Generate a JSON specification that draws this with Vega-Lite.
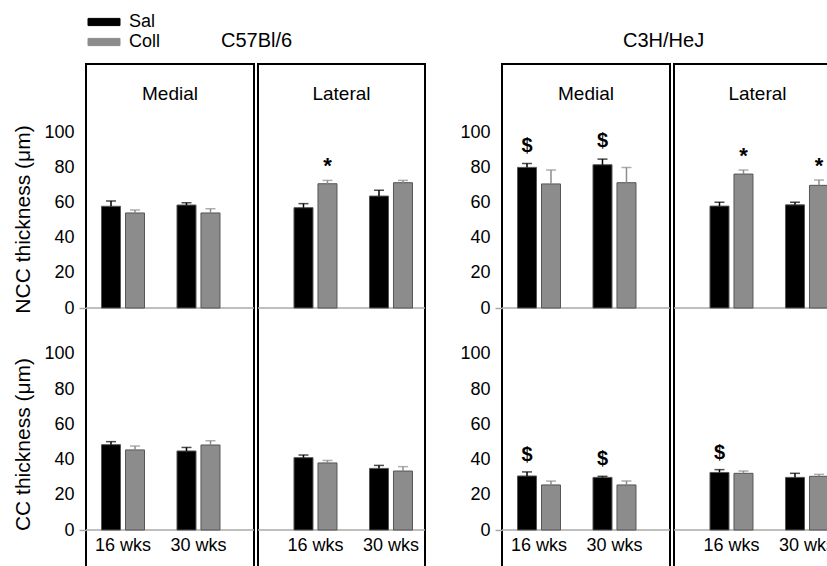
{
"$schema": "https://vega.github.io/schema/vega-lite/v6.json",
"padding": {"left": 11, "top": 13, "right": 0, "bottom": 0},
"config": {"font": "Liberation Sans", "view": {"stroke": "black", "strokeWidth": 2}, "axis": {"grid": false}},
"datasets": {"d": [
{"strain":"C57Bl/6","region":"Medial","measure":"NCC","age":"16 wks","treatment":"Sal","mean":57.8,"upper":60.8,"sig":""},
{"strain":"C57Bl/6","region":"Medial","measure":"NCC","age":"16 wks","treatment":"Coll","mean":54.0,"upper":55.7,"sig":""},
{"strain":"C57Bl/6","region":"Medial","measure":"NCC","age":"30 wks","treatment":"Sal","mean":58.5,"upper":59.8,"sig":""},
{"strain":"C57Bl/6","region":"Medial","measure":"NCC","age":"30 wks","treatment":"Coll","mean":54.0,"upper":56.4,"sig":""},
{"strain":"C57Bl/6","region":"Lateral","measure":"NCC","age":"16 wks","treatment":"Sal","mean":57.0,"upper":59.3,"sig":""},
{"strain":"C57Bl/6","region":"Lateral","measure":"NCC","age":"16 wks","treatment":"Coll","mean":70.6,"upper":72.5,"sig":"*"},
{"strain":"C57Bl/6","region":"Lateral","measure":"NCC","age":"30 wks","treatment":"Sal","mean":63.6,"upper":66.9,"sig":""},
{"strain":"C57Bl/6","region":"Lateral","measure":"NCC","age":"30 wks","treatment":"Coll","mean":71.2,"upper":72.5,"sig":""},
{"strain":"C3H/HeJ","region":"Medial","measure":"NCC","age":"16 wks","treatment":"Sal","mean":79.9,"upper":82.1,"sig":"$"},
{"strain":"C3H/HeJ","region":"Medial","measure":"NCC","age":"16 wks","treatment":"Coll","mean":70.5,"upper":78.4,"sig":""},
{"strain":"C3H/HeJ","region":"Medial","measure":"NCC","age":"30 wks","treatment":"Sal","mean":81.4,"upper":84.6,"sig":"$"},
{"strain":"C3H/HeJ","region":"Medial","measure":"NCC","age":"30 wks","treatment":"Coll","mean":71.2,"upper":79.9,"sig":""},
{"strain":"C3H/HeJ","region":"Lateral","measure":"NCC","age":"16 wks","treatment":"Sal","mean":57.9,"upper":60.1,"sig":""},
{"strain":"C3H/HeJ","region":"Lateral","measure":"NCC","age":"16 wks","treatment":"Coll","mean":76.1,"upper":78.4,"sig":"*"},
{"strain":"C3H/HeJ","region":"Lateral","measure":"NCC","age":"30 wks","treatment":"Sal","mean":58.6,"upper":60.1,"sig":""},
{"strain":"C3H/HeJ","region":"Lateral","measure":"NCC","age":"30 wks","treatment":"Coll","mean":69.7,"upper":72.7,"sig":"*"},
{"strain":"C57Bl/6","region":"Medial","measure":"CC","age":"16 wks","treatment":"Sal","mean":48.5,"upper":50.2,"sig":""},
{"strain":"C57Bl/6","region":"Medial","measure":"CC","age":"16 wks","treatment":"Coll","mean":45.5,"upper":47.7,"sig":""},
{"strain":"C57Bl/6","region":"Medial","measure":"CC","age":"30 wks","treatment":"Sal","mean":44.9,"upper":46.9,"sig":""},
{"strain":"C57Bl/6","region":"Medial","measure":"CC","age":"30 wks","treatment":"Coll","mean":48.3,"upper":50.7,"sig":""},
{"strain":"C57Bl/6","region":"Lateral","measure":"CC","age":"16 wks","treatment":"Sal","mean":41.1,"upper":42.6,"sig":""},
{"strain":"C57Bl/6","region":"Lateral","measure":"CC","age":"16 wks","treatment":"Coll","mean":38.1,"upper":39.5,"sig":""},
{"strain":"C57Bl/6","region":"Lateral","measure":"CC","age":"30 wks","treatment":"Sal","mean":35.0,"upper":36.7,"sig":""},
{"strain":"C57Bl/6","region":"Lateral","measure":"CC","age":"30 wks","treatment":"Coll","mean":33.5,"upper":36.0,"sig":""},
{"strain":"C3H/HeJ","region":"Medial","measure":"CC","age":"16 wks","treatment":"Sal","mean":30.7,"upper":33.0,"sig":"$"},
{"strain":"C3H/HeJ","region":"Medial","measure":"CC","age":"16 wks","treatment":"Coll","mean":25.6,"upper":27.8,"sig":""},
{"strain":"C3H/HeJ","region":"Medial","measure":"CC","age":"30 wks","treatment":"Sal","mean":29.9,"upper":30.5,"sig":"$"},
{"strain":"C3H/HeJ","region":"Medial","measure":"CC","age":"30 wks","treatment":"Coll","mean":25.6,"upper":27.8,"sig":""},
{"strain":"C3H/HeJ","region":"Lateral","measure":"CC","age":"16 wks","treatment":"Sal","mean":32.7,"upper":34.3,"sig":"$"},
{"strain":"C3H/HeJ","region":"Lateral","measure":"CC","age":"16 wks","treatment":"Coll","mean":32.2,"upper":33.5,"sig":""},
{"strain":"C3H/HeJ","region":"Lateral","measure":"CC","age":"30 wks","treatment":"Sal","mean":29.9,"upper":32.2,"sig":""},
{"strain":"C3H/HeJ","region":"Lateral","measure":"CC","age":"30 wks","treatment":"Coll","mean":30.5,"upper":31.6,"sig":""}
]},
"spacing": 31,
"hconcat": [
{
"title": {"text": "C57Bl/6", "fontSize": 20, "fontWeight": "normal", "color": "black", "offset": 12, "anchor": "start", "frame": "group", "dx": 135},
"spacing": 0,
"hconcat": [
{
"width": 168, "height": 520,
"data": {"name": "d"},
"transform": [{"filter": "datum.strain === 'C57Bl/6' && datum.region === 'Medial'"}],
"layer": [
  {"transform": [{"filter": "datum.measure === 'NCC' && datum.age === '16 wks' && datum.treatment === 'Sal'"}], "mark": {"type": "rule", "color": "#aaaaaa", "strokeWidth": 1.5}, "encoding": {"y": {"datum": 0, "type": "quantitative", "scale": {"domain": [-156.82, 138.64], "nice": false, "zero": false}, "axis": null}}},
  {"transform": [{"filter": "datum.measure === 'NCC'"}], "mark": {"type": "bar", "stroke": "#555555", "strokeWidth": 1},
   "encoding": {
    "x": {"field": "age", "type": "nominal", "sort": ["16 wks", "30 wks"], "scale": {"paddingInner": 0.4305, "paddingOuter": 0.328, "align": 0.313}, "axis": {"orient": "bottom", "offset": -54, "domain": false, "ticks": false, "labelFontSize": 18, "labelColor": "black", "labelPadding": 6, "labelAngle": 0, "title": null}},
    "xOffset": {"field": "treatment", "type": "nominal", "sort": ["Sal", "Coll"], "scale": {"paddingInner": 0.208, "paddingOuter": 0}},
    "y": {"field": "mean", "type": "quantitative", "scale": {"domain": [-156.82, 138.64], "nice": false, "zero": false}, "axis": {"orient": "left", "values": [0, 20, 40, 60, 80, 100], "domain": false, "grid": false, "ticks": true, "tickSize": 7, "tickColor": "#aaaaaa", "tickWidth": 1.5, "tickOpacity": {"condition": {"test": "datum.value === 0", "value": 1}, "value": 0}, "labelFontSize": 18, "labelColor": "black", "labelPadding": 5, "title": "NCC thickness (μm)", "titleFontSize": 21, "titleFontWeight": "normal", "titleColor": "black", "titleY": 155, "titlePadding": 10}},
    "color": {"field": "treatment", "type": "nominal", "sort": ["Sal", "Coll"], "scale": {"domain": ["Sal", "Coll"], "range": ["#000000", "#8c8c8c"]}, "legend": {"orient": "none", "legendX": 9, "legendY": -51, "title": null, "symbolType": "M-2,-0.45H2V0.45H-2Z", "symbolSize": 256, "symbolStrokeColor": "#555555", "symbolStrokeWidth": 1, "labelFontSize": 18, "labelColor": "black", "labelOffset": 16, "rowPadding": 2}}
   }},
  {"transform": [{"filter": "datum.measure === 'NCC'"}], "mark": {"type": "rule", "strokeWidth": 1.5},
   "encoding": {
    "x": {"field": "age", "type": "nominal", "sort": ["16 wks", "30 wks"], "scale": {"paddingInner": 0.4305, "paddingOuter": 0.328, "align": 0.313}, "axis": {"orient": "bottom", "offset": -54, "domain": false, "ticks": false, "labelFontSize": 18, "labelColor": "black", "labelPadding": 6, "labelAngle": 0, "title": null}},
    "xOffset": {"field": "treatment", "type": "nominal", "sort": ["Sal", "Coll"], "scale": {"paddingInner": 0.208, "paddingOuter": 0}},
    "y": {"field": "mean", "type": "quantitative", "scale": {"domain": [-156.82, 138.64], "nice": false, "zero": false}, "axis": null},
    "y2": {"field": "upper"},
    "color": {"field": "treatment", "type": "nominal", "sort": ["Sal", "Coll"], "legend": null}
   }},
  {"transform": [{"filter": "datum.measure === 'NCC'"}], "mark": {"type": "tick", "orient": "horizontal", "size": 10, "thickness": 1.5},
   "encoding": {
    "x": {"field": "age", "type": "nominal", "sort": ["16 wks", "30 wks"], "scale": {"paddingInner": 0.4305, "paddingOuter": 0.328, "align": 0.313}, "axis": {"orient": "bottom", "offset": -54, "domain": false, "ticks": false, "labelFontSize": 18, "labelColor": "black", "labelPadding": 6, "labelAngle": 0, "title": null}},
    "xOffset": {"field": "treatment", "type": "nominal", "sort": ["Sal", "Coll"], "scale": {"paddingInner": 0.208, "paddingOuter": 0}},
    "y": {"field": "upper", "type": "quantitative", "scale": {"domain": [-156.82, 138.64], "nice": false, "zero": false}, "axis": null},
    "color": {"field": "treatment", "type": "nominal", "sort": ["Sal", "Coll"], "legend": null}
   }},
  {"transform": [{"filter": "datum.measure === 'NCC' && datum.age === '16 wks' && datum.treatment === 'Sal'"}],
   "mark": {"type": "text", "fontSize": 19, "color": "black", "baseline": "middle"},
   "encoding": {"y": {"datum": 121.6, "type": "quantitative", "scale": {"domain": [-156.82, 138.64], "nice": false, "zero": false}, "axis": null}, "text": {"field": "region"}}},
  {"transform": [{"filter": "datum.measure === 'CC' && datum.age === '16 wks' && datum.treatment === 'Sal'"}], "mark": {"type": "rule", "color": "#aaaaaa", "strokeWidth": 1.5}, "encoding": {"y": {"datum": 0, "type": "quantitative", "scale": {"domain": [-30.68, 264.77], "nice": false, "zero": false}, "axis": null}}},
  {"transform": [{"filter": "datum.measure === 'CC'"}], "mark": {"type": "bar", "stroke": "#555555", "strokeWidth": 1},
   "encoding": {
    "x": {"field": "age", "type": "nominal", "sort": ["16 wks", "30 wks"], "scale": {"paddingInner": 0.4305, "paddingOuter": 0.328, "align": 0.313}, "axis": {"orient": "bottom", "offset": -54, "domain": false, "ticks": false, "labelFontSize": 18, "labelColor": "black", "labelPadding": 6, "labelAngle": 0, "title": null}},
    "xOffset": {"field": "treatment", "type": "nominal", "sort": ["Sal", "Coll"], "scale": {"paddingInner": 0.208, "paddingOuter": 0}},
    "y": {"field": "mean", "type": "quantitative", "scale": {"domain": [-30.68, 264.77], "nice": false, "zero": false}, "axis": {"orient": "left", "values": [0, 20, 40, 60, 80, 100], "domain": false, "grid": false, "ticks": true, "tickSize": 7, "tickColor": "#aaaaaa", "tickWidth": 1.5, "tickOpacity": {"condition": {"test": "datum.value === 0", "value": 1}, "value": 0}, "labelFontSize": 18, "labelColor": "black", "labelPadding": 5, "title": "CC thickness (μm)", "titleFontSize": 21, "titleFontWeight": "normal", "titleColor": "black", "titleY": 380, "titlePadding": 10}},
    "color": {"field": "treatment", "type": "nominal", "sort": ["Sal", "Coll"], "legend": null}
   }},
  {"transform": [{"filter": "datum.measure === 'CC'"}], "mark": {"type": "rule", "strokeWidth": 1.5},
   "encoding": {
    "x": {"field": "age", "type": "nominal", "sort": ["16 wks", "30 wks"], "scale": {"paddingInner": 0.4305, "paddingOuter": 0.328, "align": 0.313}, "axis": {"orient": "bottom", "offset": -54, "domain": false, "ticks": false, "labelFontSize": 18, "labelColor": "black", "labelPadding": 6, "labelAngle": 0, "title": null}},
    "xOffset": {"field": "treatment", "type": "nominal", "sort": ["Sal", "Coll"], "scale": {"paddingInner": 0.208, "paddingOuter": 0}},
    "y": {"field": "mean", "type": "quantitative", "scale": {"domain": [-30.68, 264.77], "nice": false, "zero": false}, "axis": null},
    "y2": {"field": "upper"},
    "color": {"field": "treatment", "type": "nominal", "sort": ["Sal", "Coll"], "legend": null}
   }},
  {"transform": [{"filter": "datum.measure === 'CC'"}], "mark": {"type": "tick", "orient": "horizontal", "size": 10, "thickness": 1.5},
   "encoding": {
    "x": {"field": "age", "type": "nominal", "sort": ["16 wks", "30 wks"], "scale": {"paddingInner": 0.4305, "paddingOuter": 0.328, "align": 0.313}, "axis": {"orient": "bottom", "offset": -54, "domain": false, "ticks": false, "labelFontSize": 18, "labelColor": "black", "labelPadding": 6, "labelAngle": 0, "title": null}},
    "xOffset": {"field": "treatment", "type": "nominal", "sort": ["Sal", "Coll"], "scale": {"paddingInner": 0.208, "paddingOuter": 0}},
    "y": {"field": "upper", "type": "quantitative", "scale": {"domain": [-30.68, 264.77], "nice": false, "zero": false}, "axis": null},
    "color": {"field": "treatment", "type": "nominal", "sort": ["Sal", "Coll"], "legend": null}
   }}
],
"resolve": {"scale": {"y": "independent"}, "axis": {"y": "independent"}}
},
{
"width": 167, "height": 520,
"data": {"name": "d"},
"transform": [{"filter": "datum.strain === 'C57Bl/6' && datum.region === 'Lateral'"}],
"layer": [
  {"transform": [{"filter": "datum.measure === 'NCC' && datum.age === '16 wks' && datum.treatment === 'Sal'"}], "mark": {"type": "rule", "color": "#aaaaaa", "strokeWidth": 1.5}, "encoding": {"y": {"datum": 0, "type": "quantitative", "scale": {"domain": [-156.82, 138.64], "nice": false, "zero": false}, "axis": null}}},
  {"transform": [{"filter": "datum.measure === 'NCC'"}], "mark": {"type": "bar", "stroke": "#555555", "strokeWidth": 1},
   "encoding": {
    "x": {"field": "age", "type": "nominal", "sort": ["16 wks", "30 wks"], "scale": {"paddingInner": 0.4305, "paddingOuter": 0.3212, "align": 0.742}, "axis": {"orient": "bottom", "offset": -54, "domain": false, "ticks": false, "labelFontSize": 18, "labelColor": "black", "labelPadding": 6, "labelAngle": 0, "title": null}},
    "xOffset": {"field": "treatment", "type": "nominal", "sort": ["Sal", "Coll"], "scale": {"paddingInner": 0.208, "paddingOuter": 0}},
    "y": {"field": "mean", "type": "quantitative", "scale": {"domain": [-156.82, 138.64], "nice": false, "zero": false}, "axis": null},
    "color": {"field": "treatment", "type": "nominal", "sort": ["Sal", "Coll"], "legend": null}
   }},
  {"transform": [{"filter": "datum.measure === 'NCC'"}], "mark": {"type": "rule", "strokeWidth": 1.5},
   "encoding": {
    "x": {"field": "age", "type": "nominal", "sort": ["16 wks", "30 wks"], "scale": {"paddingInner": 0.4305, "paddingOuter": 0.3212, "align": 0.742}, "axis": {"orient": "bottom", "offset": -54, "domain": false, "ticks": false, "labelFontSize": 18, "labelColor": "black", "labelPadding": 6, "labelAngle": 0, "title": null}},
    "xOffset": {"field": "treatment", "type": "nominal", "sort": ["Sal", "Coll"], "scale": {"paddingInner": 0.208, "paddingOuter": 0}},
    "y": {"field": "mean", "type": "quantitative", "scale": {"domain": [-156.82, 138.64], "nice": false, "zero": false}, "axis": null},
    "y2": {"field": "upper"},
    "color": {"field": "treatment", "type": "nominal", "sort": ["Sal", "Coll"], "legend": null}
   }},
  {"transform": [{"filter": "datum.measure === 'NCC'"}], "mark": {"type": "tick", "orient": "horizontal", "size": 10, "thickness": 1.5},
   "encoding": {
    "x": {"field": "age", "type": "nominal", "sort": ["16 wks", "30 wks"], "scale": {"paddingInner": 0.4305, "paddingOuter": 0.3212, "align": 0.742}, "axis": {"orient": "bottom", "offset": -54, "domain": false, "ticks": false, "labelFontSize": 18, "labelColor": "black", "labelPadding": 6, "labelAngle": 0, "title": null}},
    "xOffset": {"field": "treatment", "type": "nominal", "sort": ["Sal", "Coll"], "scale": {"paddingInner": 0.208, "paddingOuter": 0}},
    "y": {"field": "upper", "type": "quantitative", "scale": {"domain": [-156.82, 138.64], "nice": false, "zero": false}, "axis": null},
    "color": {"field": "treatment", "type": "nominal", "sort": ["Sal", "Coll"], "legend": null}
   }},
  {"transform": [{"filter": "datum.measure === 'NCC' && datum.sig !== ''"}],
   "mark": {"type": "text", "fontSize": 22, "fontWeight": "bold", "color": "black", "baseline": "middle", "dy": -14},
   "encoding": {
    "x": {"field": "age", "type": "nominal", "sort": ["16 wks", "30 wks"], "scale": {"paddingInner": 0.4305, "paddingOuter": 0.3212, "align": 0.742}, "axis": {"orient": "bottom", "offset": -54, "domain": false, "ticks": false, "labelFontSize": 18, "labelColor": "black", "labelPadding": 6, "labelAngle": 0, "title": null}},
    "xOffset": {"field": "treatment", "type": "nominal", "sort": ["Sal", "Coll"], "scale": {"paddingInner": 0.208, "paddingOuter": 0}},
    "y": {"field": "upper", "type": "quantitative", "scale": {"domain": [-156.82, 138.64], "nice": false, "zero": false}, "axis": null},
    "text": {"field": "sig"}
   }},
  {"transform": [{"filter": "datum.measure === 'NCC' && datum.age === '16 wks' && datum.treatment === 'Sal'"}],
   "mark": {"type": "text", "fontSize": 19, "color": "black", "baseline": "middle"},
   "encoding": {"y": {"datum": 121.6, "type": "quantitative", "scale": {"domain": [-156.82, 138.64], "nice": false, "zero": false}, "axis": null}, "text": {"field": "region"}}},
  {"transform": [{"filter": "datum.measure === 'CC' && datum.age === '16 wks' && datum.treatment === 'Sal'"}], "mark": {"type": "rule", "color": "#aaaaaa", "strokeWidth": 1.5}, "encoding": {"y": {"datum": 0, "type": "quantitative", "scale": {"domain": [-30.68, 264.77], "nice": false, "zero": false}, "axis": null}}},
  {"transform": [{"filter": "datum.measure === 'CC'"}], "mark": {"type": "bar", "stroke": "#555555", "strokeWidth": 1},
   "encoding": {
    "x": {"field": "age", "type": "nominal", "sort": ["16 wks", "30 wks"], "scale": {"paddingInner": 0.4305, "paddingOuter": 0.3212, "align": 0.742}, "axis": {"orient": "bottom", "offset": -54, "domain": false, "ticks": false, "labelFontSize": 18, "labelColor": "black", "labelPadding": 6, "labelAngle": 0, "title": null}},
    "xOffset": {"field": "treatment", "type": "nominal", "sort": ["Sal", "Coll"], "scale": {"paddingInner": 0.208, "paddingOuter": 0}},
    "y": {"field": "mean", "type": "quantitative", "scale": {"domain": [-30.68, 264.77], "nice": false, "zero": false}, "axis": null},
    "color": {"field": "treatment", "type": "nominal", "sort": ["Sal", "Coll"], "legend": null}
   }},
  {"transform": [{"filter": "datum.measure === 'CC'"}], "mark": {"type": "rule", "strokeWidth": 1.5},
   "encoding": {
    "x": {"field": "age", "type": "nominal", "sort": ["16 wks", "30 wks"], "scale": {"paddingInner": 0.4305, "paddingOuter": 0.3212, "align": 0.742}, "axis": {"orient": "bottom", "offset": -54, "domain": false, "ticks": false, "labelFontSize": 18, "labelColor": "black", "labelPadding": 6, "labelAngle": 0, "title": null}},
    "xOffset": {"field": "treatment", "type": "nominal", "sort": ["Sal", "Coll"], "scale": {"paddingInner": 0.208, "paddingOuter": 0}},
    "y": {"field": "mean", "type": "quantitative", "scale": {"domain": [-30.68, 264.77], "nice": false, "zero": false}, "axis": null},
    "y2": {"field": "upper"},
    "color": {"field": "treatment", "type": "nominal", "sort": ["Sal", "Coll"], "legend": null}
   }},
  {"transform": [{"filter": "datum.measure === 'CC'"}], "mark": {"type": "tick", "orient": "horizontal", "size": 10, "thickness": 1.5},
   "encoding": {
    "x": {"field": "age", "type": "nominal", "sort": ["16 wks", "30 wks"], "scale": {"paddingInner": 0.4305, "paddingOuter": 0.3212, "align": 0.742}, "axis": {"orient": "bottom", "offset": -54, "domain": false, "ticks": false, "labelFontSize": 18, "labelColor": "black", "labelPadding": 6, "labelAngle": 0, "title": null}},
    "xOffset": {"field": "treatment", "type": "nominal", "sort": ["Sal", "Coll"], "scale": {"paddingInner": 0.208, "paddingOuter": 0}},
    "y": {"field": "upper", "type": "quantitative", "scale": {"domain": [-30.68, 264.77], "nice": false, "zero": false}, "axis": null},
    "color": {"field": "treatment", "type": "nominal", "sort": ["Sal", "Coll"], "legend": null}
   }}
],
"resolve": {"scale": {"y": "independent"}, "axis": {"y": "independent"}}
}
]
},
{
"title": {"text": "C3H/HeJ", "fontSize": 20, "fontWeight": "normal", "color": "black", "offset": 12, "anchor": "start", "frame": "group", "dx": 121},
"spacing": 0,
"hconcat": [
{
"width": 168, "height": 520,
"data": {"name": "d"},
"transform": [{"filter": "datum.strain === 'C3H/HeJ' && datum.region === 'Medial'"}],
"layer": [
  {"transform": [{"filter": "datum.measure === 'NCC' && datum.age === '16 wks' && datum.treatment === 'Sal'"}], "mark": {"type": "rule", "color": "#aaaaaa", "strokeWidth": 1.5}, "encoding": {"y": {"datum": 0, "type": "quantitative", "scale": {"domain": [-156.82, 138.64], "nice": false, "zero": false}, "axis": null}}},
  {"transform": [{"filter": "datum.measure === 'NCC'"}], "mark": {"type": "bar", "stroke": "#555555", "strokeWidth": 1},
   "encoding": {
    "x": {"field": "age", "type": "nominal", "sort": ["16 wks", "30 wks"], "scale": {"paddingInner": 0.4305, "paddingOuter": 0.328, "align": 0.313}, "axis": {"orient": "bottom", "offset": -54, "domain": false, "ticks": false, "labelFontSize": 18, "labelColor": "black", "labelPadding": 6, "labelAngle": 0, "title": null}},
    "xOffset": {"field": "treatment", "type": "nominal", "sort": ["Sal", "Coll"], "scale": {"paddingInner": 0.208, "paddingOuter": 0}},
    "y": {"field": "mean", "type": "quantitative", "scale": {"domain": [-156.82, 138.64], "nice": false, "zero": false}, "axis": {"orient": "left", "values": [0, 20, 40, 60, 80, 100], "domain": false, "grid": false, "ticks": true, "tickSize": 7, "tickColor": "#aaaaaa", "tickWidth": 1.5, "tickOpacity": {"condition": {"test": "datum.value === 0", "value": 1}, "value": 0}, "labelFontSize": 18, "labelColor": "black", "labelPadding": 5, "title": null}},
    "color": {"field": "treatment", "type": "nominal", "sort": ["Sal", "Coll"], "legend": null}
   }},
  {"transform": [{"filter": "datum.measure === 'NCC'"}], "mark": {"type": "rule", "strokeWidth": 1.5},
   "encoding": {
    "x": {"field": "age", "type": "nominal", "sort": ["16 wks", "30 wks"], "scale": {"paddingInner": 0.4305, "paddingOuter": 0.328, "align": 0.313}, "axis": {"orient": "bottom", "offset": -54, "domain": false, "ticks": false, "labelFontSize": 18, "labelColor": "black", "labelPadding": 6, "labelAngle": 0, "title": null}},
    "xOffset": {"field": "treatment", "type": "nominal", "sort": ["Sal", "Coll"], "scale": {"paddingInner": 0.208, "paddingOuter": 0}},
    "y": {"field": "mean", "type": "quantitative", "scale": {"domain": [-156.82, 138.64], "nice": false, "zero": false}, "axis": null},
    "y2": {"field": "upper"},
    "color": {"field": "treatment", "type": "nominal", "sort": ["Sal", "Coll"], "legend": null}
   }},
  {"transform": [{"filter": "datum.measure === 'NCC'"}], "mark": {"type": "tick", "orient": "horizontal", "size": 10, "thickness": 1.5},
   "encoding": {
    "x": {"field": "age", "type": "nominal", "sort": ["16 wks", "30 wks"], "scale": {"paddingInner": 0.4305, "paddingOuter": 0.328, "align": 0.313}, "axis": {"orient": "bottom", "offset": -54, "domain": false, "ticks": false, "labelFontSize": 18, "labelColor": "black", "labelPadding": 6, "labelAngle": 0, "title": null}},
    "xOffset": {"field": "treatment", "type": "nominal", "sort": ["Sal", "Coll"], "scale": {"paddingInner": 0.208, "paddingOuter": 0}},
    "y": {"field": "upper", "type": "quantitative", "scale": {"domain": [-156.82, 138.64], "nice": false, "zero": false}, "axis": null},
    "color": {"field": "treatment", "type": "nominal", "sort": ["Sal", "Coll"], "legend": null}
   }},
  {"transform": [{"filter": "datum.measure === 'NCC' && datum.sig !== ''"}],
   "mark": {"type": "text", "fontSize": 20, "fontWeight": "bold", "color": "black", "baseline": "middle", "dy": -18},
   "encoding": {
    "x": {"field": "age", "type": "nominal", "sort": ["16 wks", "30 wks"], "scale": {"paddingInner": 0.4305, "paddingOuter": 0.328, "align": 0.313}, "axis": {"orient": "bottom", "offset": -54, "domain": false, "ticks": false, "labelFontSize": 18, "labelColor": "black", "labelPadding": 6, "labelAngle": 0, "title": null}},
    "xOffset": {"field": "treatment", "type": "nominal", "sort": ["Sal", "Coll"], "scale": {"paddingInner": 0.208, "paddingOuter": 0}},
    "y": {"field": "upper", "type": "quantitative", "scale": {"domain": [-156.82, 138.64], "nice": false, "zero": false}, "axis": null},
    "text": {"field": "sig"}
   }},
  {"transform": [{"filter": "datum.measure === 'NCC' && datum.age === '16 wks' && datum.treatment === 'Sal'"}],
   "mark": {"type": "text", "fontSize": 19, "color": "black", "baseline": "middle"},
   "encoding": {"y": {"datum": 121.6, "type": "quantitative", "scale": {"domain": [-156.82, 138.64], "nice": false, "zero": false}, "axis": null}, "text": {"field": "region"}}},
  {"transform": [{"filter": "datum.measure === 'CC' && datum.age === '16 wks' && datum.treatment === 'Sal'"}], "mark": {"type": "rule", "color": "#aaaaaa", "strokeWidth": 1.5}, "encoding": {"y": {"datum": 0, "type": "quantitative", "scale": {"domain": [-30.68, 264.77], "nice": false, "zero": false}, "axis": null}}},
  {"transform": [{"filter": "datum.measure === 'CC'"}], "mark": {"type": "bar", "stroke": "#555555", "strokeWidth": 1},
   "encoding": {
    "x": {"field": "age", "type": "nominal", "sort": ["16 wks", "30 wks"], "scale": {"paddingInner": 0.4305, "paddingOuter": 0.328, "align": 0.313}, "axis": {"orient": "bottom", "offset": -54, "domain": false, "ticks": false, "labelFontSize": 18, "labelColor": "black", "labelPadding": 6, "labelAngle": 0, "title": null}},
    "xOffset": {"field": "treatment", "type": "nominal", "sort": ["Sal", "Coll"], "scale": {"paddingInner": 0.208, "paddingOuter": 0}},
    "y": {"field": "mean", "type": "quantitative", "scale": {"domain": [-30.68, 264.77], "nice": false, "zero": false}, "axis": {"orient": "left", "values": [0, 20, 40, 60, 80, 100], "domain": false, "grid": false, "ticks": true, "tickSize": 7, "tickColor": "#aaaaaa", "tickWidth": 1.5, "tickOpacity": {"condition": {"test": "datum.value === 0", "value": 1}, "value": 0}, "labelFontSize": 18, "labelColor": "black", "labelPadding": 5, "title": null}},
    "color": {"field": "treatment", "type": "nominal", "sort": ["Sal", "Coll"], "legend": null}
   }},
  {"transform": [{"filter": "datum.measure === 'CC'"}], "mark": {"type": "rule", "strokeWidth": 1.5},
   "encoding": {
    "x": {"field": "age", "type": "nominal", "sort": ["16 wks", "30 wks"], "scale": {"paddingInner": 0.4305, "paddingOuter": 0.328, "align": 0.313}, "axis": {"orient": "bottom", "offset": -54, "domain": false, "ticks": false, "labelFontSize": 18, "labelColor": "black", "labelPadding": 6, "labelAngle": 0, "title": null}},
    "xOffset": {"field": "treatment", "type": "nominal", "sort": ["Sal", "Coll"], "scale": {"paddingInner": 0.208, "paddingOuter": 0}},
    "y": {"field": "mean", "type": "quantitative", "scale": {"domain": [-30.68, 264.77], "nice": false, "zero": false}, "axis": null},
    "y2": {"field": "upper"},
    "color": {"field": "treatment", "type": "nominal", "sort": ["Sal", "Coll"], "legend": null}
   }},
  {"transform": [{"filter": "datum.measure === 'CC'"}], "mark": {"type": "tick", "orient": "horizontal", "size": 10, "thickness": 1.5},
   "encoding": {
    "x": {"field": "age", "type": "nominal", "sort": ["16 wks", "30 wks"], "scale": {"paddingInner": 0.4305, "paddingOuter": 0.328, "align": 0.313}, "axis": {"orient": "bottom", "offset": -54, "domain": false, "ticks": false, "labelFontSize": 18, "labelColor": "black", "labelPadding": 6, "labelAngle": 0, "title": null}},
    "xOffset": {"field": "treatment", "type": "nominal", "sort": ["Sal", "Coll"], "scale": {"paddingInner": 0.208, "paddingOuter": 0}},
    "y": {"field": "upper", "type": "quantitative", "scale": {"domain": [-30.68, 264.77], "nice": false, "zero": false}, "axis": null},
    "color": {"field": "treatment", "type": "nominal", "sort": ["Sal", "Coll"], "legend": null}
   }},
  {"transform": [{"filter": "datum.measure === 'CC' && datum.sig !== ''"}],
   "mark": {"type": "text", "fontSize": 20, "fontWeight": "bold", "color": "black", "baseline": "middle", "dy": -17},
   "encoding": {
    "x": {"field": "age", "type": "nominal", "sort": ["16 wks", "30 wks"], "scale": {"paddingInner": 0.4305, "paddingOuter": 0.328, "align": 0.313}, "axis": {"orient": "bottom", "offset": -54, "domain": false, "ticks": false, "labelFontSize": 18, "labelColor": "black", "labelPadding": 6, "labelAngle": 0, "title": null}},
    "xOffset": {"field": "treatment", "type": "nominal", "sort": ["Sal", "Coll"], "scale": {"paddingInner": 0.208, "paddingOuter": 0}},
    "y": {"field": "upper", "type": "quantitative", "scale": {"domain": [-30.68, 264.77], "nice": false, "zero": false}, "axis": null},
    "text": {"field": "sig"}
   }}
],
"resolve": {"scale": {"y": "independent"}, "axis": {"y": "independent"}}
},
{
"width": 167, "height": 520,
"data": {"name": "d"},
"transform": [{"filter": "datum.strain === 'C3H/HeJ' && datum.region === 'Lateral'"}],
"layer": [
  {"transform": [{"filter": "datum.measure === 'NCC' && datum.age === '16 wks' && datum.treatment === 'Sal'"}], "mark": {"type": "rule", "color": "#aaaaaa", "strokeWidth": 1.5}, "encoding": {"y": {"datum": 0, "type": "quantitative", "scale": {"domain": [-156.82, 138.64], "nice": false, "zero": false}, "axis": null}}},
  {"transform": [{"filter": "datum.measure === 'NCC'"}], "mark": {"type": "bar", "stroke": "#555555", "strokeWidth": 1},
   "encoding": {
    "x": {"field": "age", "type": "nominal", "sort": ["16 wks", "30 wks"], "scale": {"paddingInner": 0.4305, "paddingOuter": 0.3212, "align": 0.742}, "axis": {"orient": "bottom", "offset": -54, "domain": false, "ticks": false, "labelFontSize": 18, "labelColor": "black", "labelPadding": 6, "labelAngle": 0, "title": null}},
    "xOffset": {"field": "treatment", "type": "nominal", "sort": ["Sal", "Coll"], "scale": {"paddingInner": 0.208, "paddingOuter": 0}},
    "y": {"field": "mean", "type": "quantitative", "scale": {"domain": [-156.82, 138.64], "nice": false, "zero": false}, "axis": null},
    "color": {"field": "treatment", "type": "nominal", "sort": ["Sal", "Coll"], "legend": null}
   }},
  {"transform": [{"filter": "datum.measure === 'NCC'"}], "mark": {"type": "rule", "strokeWidth": 1.5},
   "encoding": {
    "x": {"field": "age", "type": "nominal", "sort": ["16 wks", "30 wks"], "scale": {"paddingInner": 0.4305, "paddingOuter": 0.3212, "align": 0.742}, "axis": {"orient": "bottom", "offset": -54, "domain": false, "ticks": false, "labelFontSize": 18, "labelColor": "black", "labelPadding": 6, "labelAngle": 0, "title": null}},
    "xOffset": {"field": "treatment", "type": "nominal", "sort": ["Sal", "Coll"], "scale": {"paddingInner": 0.208, "paddingOuter": 0}},
    "y": {"field": "mean", "type": "quantitative", "scale": {"domain": [-156.82, 138.64], "nice": false, "zero": false}, "axis": null},
    "y2": {"field": "upper"},
    "color": {"field": "treatment", "type": "nominal", "sort": ["Sal", "Coll"], "legend": null}
   }},
  {"transform": [{"filter": "datum.measure === 'NCC'"}], "mark": {"type": "tick", "orient": "horizontal", "size": 10, "thickness": 1.5},
   "encoding": {
    "x": {"field": "age", "type": "nominal", "sort": ["16 wks", "30 wks"], "scale": {"paddingInner": 0.4305, "paddingOuter": 0.3212, "align": 0.742}, "axis": {"orient": "bottom", "offset": -54, "domain": false, "ticks": false, "labelFontSize": 18, "labelColor": "black", "labelPadding": 6, "labelAngle": 0, "title": null}},
    "xOffset": {"field": "treatment", "type": "nominal", "sort": ["Sal", "Coll"], "scale": {"paddingInner": 0.208, "paddingOuter": 0}},
    "y": {"field": "upper", "type": "quantitative", "scale": {"domain": [-156.82, 138.64], "nice": false, "zero": false}, "axis": null},
    "color": {"field": "treatment", "type": "nominal", "sort": ["Sal", "Coll"], "legend": null}
   }},
  {"transform": [{"filter": "datum.measure === 'NCC' && datum.sig !== ''"}],
   "mark": {"type": "text", "fontSize": 22, "fontWeight": "bold", "color": "black", "baseline": "middle", "dy": -14},
   "encoding": {
    "x": {"field": "age", "type": "nominal", "sort": ["16 wks", "30 wks"], "scale": {"paddingInner": 0.4305, "paddingOuter": 0.3212, "align": 0.742}, "axis": {"orient": "bottom", "offset": -54, "domain": false, "ticks": false, "labelFontSize": 18, "labelColor": "black", "labelPadding": 6, "labelAngle": 0, "title": null}},
    "xOffset": {"field": "treatment", "type": "nominal", "sort": ["Sal", "Coll"], "scale": {"paddingInner": 0.208, "paddingOuter": 0}},
    "y": {"field": "upper", "type": "quantitative", "scale": {"domain": [-156.82, 138.64], "nice": false, "zero": false}, "axis": null},
    "text": {"field": "sig"}
   }},
  {"transform": [{"filter": "datum.measure === 'NCC' && datum.age === '16 wks' && datum.treatment === 'Sal'"}],
   "mark": {"type": "text", "fontSize": 19, "color": "black", "baseline": "middle"},
   "encoding": {"y": {"datum": 121.6, "type": "quantitative", "scale": {"domain": [-156.82, 138.64], "nice": false, "zero": false}, "axis": null}, "text": {"field": "region"}}},
  {"transform": [{"filter": "datum.measure === 'CC' && datum.age === '16 wks' && datum.treatment === 'Sal'"}], "mark": {"type": "rule", "color": "#aaaaaa", "strokeWidth": 1.5}, "encoding": {"y": {"datum": 0, "type": "quantitative", "scale": {"domain": [-30.68, 264.77], "nice": false, "zero": false}, "axis": null}}},
  {"transform": [{"filter": "datum.measure === 'CC'"}], "mark": {"type": "bar", "stroke": "#555555", "strokeWidth": 1},
   "encoding": {
    "x": {"field": "age", "type": "nominal", "sort": ["16 wks", "30 wks"], "scale": {"paddingInner": 0.4305, "paddingOuter": 0.3212, "align": 0.742}, "axis": {"orient": "bottom", "offset": -54, "domain": false, "ticks": false, "labelFontSize": 18, "labelColor": "black", "labelPadding": 6, "labelAngle": 0, "title": null}},
    "xOffset": {"field": "treatment", "type": "nominal", "sort": ["Sal", "Coll"], "scale": {"paddingInner": 0.208, "paddingOuter": 0}},
    "y": {"field": "mean", "type": "quantitative", "scale": {"domain": [-30.68, 264.77], "nice": false, "zero": false}, "axis": null},
    "color": {"field": "treatment", "type": "nominal", "sort": ["Sal", "Coll"], "legend": null}
   }},
  {"transform": [{"filter": "datum.measure === 'CC'"}], "mark": {"type": "rule", "strokeWidth": 1.5},
   "encoding": {
    "x": {"field": "age", "type": "nominal", "sort": ["16 wks", "30 wks"], "scale": {"paddingInner": 0.4305, "paddingOuter": 0.3212, "align": 0.742}, "axis": {"orient": "bottom", "offset": -54, "domain": false, "ticks": false, "labelFontSize": 18, "labelColor": "black", "labelPadding": 6, "labelAngle": 0, "title": null}},
    "xOffset": {"field": "treatment", "type": "nominal", "sort": ["Sal", "Coll"], "scale": {"paddingInner": 0.208, "paddingOuter": 0}},
    "y": {"field": "mean", "type": "quantitative", "scale": {"domain": [-30.68, 264.77], "nice": false, "zero": false}, "axis": null},
    "y2": {"field": "upper"},
    "color": {"field": "treatment", "type": "nominal", "sort": ["Sal", "Coll"], "legend": null}
   }},
  {"transform": [{"filter": "datum.measure === 'CC'"}], "mark": {"type": "tick", "orient": "horizontal", "size": 10, "thickness": 1.5},
   "encoding": {
    "x": {"field": "age", "type": "nominal", "sort": ["16 wks", "30 wks"], "scale": {"paddingInner": 0.4305, "paddingOuter": 0.3212, "align": 0.742}, "axis": {"orient": "bottom", "offset": -54, "domain": false, "ticks": false, "labelFontSize": 18, "labelColor": "black", "labelPadding": 6, "labelAngle": 0, "title": null}},
    "xOffset": {"field": "treatment", "type": "nominal", "sort": ["Sal", "Coll"], "scale": {"paddingInner": 0.208, "paddingOuter": 0}},
    "y": {"field": "upper", "type": "quantitative", "scale": {"domain": [-30.68, 264.77], "nice": false, "zero": false}, "axis": null},
    "color": {"field": "treatment", "type": "nominal", "sort": ["Sal", "Coll"], "legend": null}
   }},
  {"transform": [{"filter": "datum.measure === 'CC' && datum.sig !== ''"}],
   "mark": {"type": "text", "fontSize": 20, "fontWeight": "bold", "color": "black", "baseline": "middle", "dy": -17},
   "encoding": {
    "x": {"field": "age", "type": "nominal", "sort": ["16 wks", "30 wks"], "scale": {"paddingInner": 0.4305, "paddingOuter": 0.3212, "align": 0.742}, "axis": {"orient": "bottom", "offset": -54, "domain": false, "ticks": false, "labelFontSize": 18, "labelColor": "black", "labelPadding": 6, "labelAngle": 0, "title": null}},
    "xOffset": {"field": "treatment", "type": "nominal", "sort": ["Sal", "Coll"], "scale": {"paddingInner": 0.208, "paddingOuter": 0}},
    "y": {"field": "upper", "type": "quantitative", "scale": {"domain": [-30.68, 264.77], "nice": false, "zero": false}, "axis": null},
    "text": {"field": "sig"}
   }}
],
"resolve": {"scale": {"y": "independent"}, "axis": {"y": "independent"}}
}
]
}
]
}
